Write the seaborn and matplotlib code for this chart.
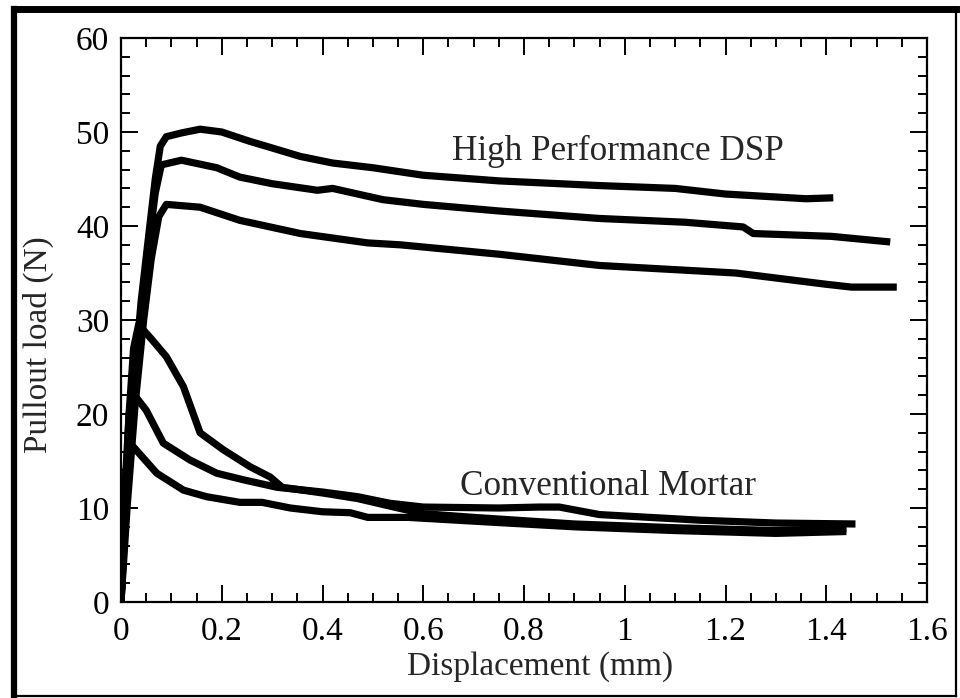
import numpy as np
import pandas as pd
import seaborn as sns
import matplotlib
matplotlib.use("Agg")
import matplotlib.pyplot as plt
from matplotlib.lines import Line2D
from matplotlib.ticker import MultipleLocator, FuncFormatter

# ---- data ----
hp1_x = [0, 0.01, 0.025, 0.04, 0.055, 0.068, 0.078, 0.09, 0.12, 0.157, 0.2, 0.256, 0.3, 0.356, 0.42, 0.5, 0.6, 0.75, 0.95, 1.1, 1.2, 1.36, 1.414]
hp1_y = [0, 11, 23, 32, 39, 45, 48.5, 49.5, 49.9, 50.3, 50.0, 49.0, 48.3, 47.4, 46.7, 46.2, 45.4, 44.8, 44.3, 44.0, 43.4, 42.9, 43.0]

hp2_x = [0, 0.01, 0.025, 0.04, 0.055, 0.068, 0.08, 0.12, 0.19, 0.236, 0.3, 0.39, 0.42, 0.52, 0.6, 0.75, 0.95, 1.12, 1.235, 1.255, 1.41, 1.527]
hp2_y = [0, 10, 22, 31, 38, 43.5, 46.5, 47.0, 46.2, 45.2, 44.5, 43.8, 44.0, 42.8, 42.3, 41.6, 40.8, 40.4, 39.9, 39.2, 38.9, 38.3]

hp3_x = [0, 0.012, 0.028, 0.045, 0.06, 0.075, 0.09, 0.157, 0.236, 0.356, 0.49, 0.554, 0.75, 0.95, 1.22, 1.4, 1.45, 1.54]
hp3_y = [0, 10, 21, 30, 36.5, 41, 42.3, 42.0, 40.6, 39.2, 38.2, 38.0, 37.0, 35.8, 35.0, 33.8, 33.5, 33.5]

cm1_x = [0, 0.008, 0.016, 0.025, 0.035, 0.06, 0.09, 0.124, 0.157, 0.203, 0.256, 0.296, 0.32, 0.40, 0.47, 0.55, 0.6, 0.7, 0.9, 1.1, 1.3, 1.44]
cm1_y = [0, 10, 20, 27, 29.5, 28, 26.1, 22.9, 18.0, 16.2, 14.4, 13.3, 12.2, 11.6, 11.0, 10.0, 9.4, 9.0, 8.3, 7.9, 7.6, 7.8]

cm2_x = [0, 0.008, 0.016, 0.024, 0.05, 0.084, 0.137, 0.19, 0.243, 0.31, 0.40, 0.47, 0.534, 0.6, 0.75, 0.83, 0.87, 0.95, 1.15, 1.3, 1.458]
cm2_y = [0, 12, 20, 22.2, 20.4, 16.9, 15.1, 13.7, 13.0, 12.2, 11.7, 11.2, 10.5, 10.1, 10.0, 10.1, 10.1, 9.3, 8.7, 8.4, 8.3]

cm3_x = [0, 0.01, 0.018, 0.071, 0.124, 0.17, 0.236, 0.28, 0.336, 0.40, 0.455, 0.49, 0.57, 0.733, 0.9, 1.1, 1.3, 1.44]
cm3_y = [0, 14, 16.9, 13.7, 11.9, 11.2, 10.6, 10.6, 10.0, 9.6, 9.5, 9.0, 9.0, 8.5, 8.0, 7.6, 7.3, 7.5]

x_ticks = [0, 0.2, 0.4, 0.6, 0.8, 1.0, 1.2, 1.4, 1.6]
y_ticks = [0, 10, 20, 30, 40, 50, 60]
x_label = "Displacement (mm)"
y_label = "Pullout load (N)"
label_hp = "High Performance DSP"
label_cm = "Conventional Mortar"

curves = {"hp1": (hp1_x, hp1_y), "hp2": (hp2_x, hp2_y), "hp3": (hp3_x, hp3_y),
          "cm1": (cm1_x, cm1_y), "cm2": (cm2_x, cm2_y), "cm3": (cm3_x, cm3_y)}
df = pd.concat([pd.DataFrame({"curve": k, "x": v[0], "y": v[1]}) for k, v in curves.items()],
               ignore_index=True)

sns.set_style("ticks")
plt.rcParams["font.family"] = ["Liberation Serif", "DejaVu Serif"]

fig = plt.figure(figsize=(9.6, 6.98), dpi=100)
ax = fig.add_axes([121/960, 1 - 602/698, (927-121)/960, (602-38)/698])

sns.lineplot(data=df, x="x", y="y", units="curve", estimator=None, sort=False,
             color="black", lw=5.2, ax=ax, solid_capstyle="butt", solid_joinstyle="round")

ax.set_xlim(0, 1.6)
ax.set_ylim(0, 60)
ax.set_xticks(x_ticks)
ax.set_yticks(y_ticks)
ax.xaxis.set_minor_locator(MultipleLocator(0.05))
ax.yaxis.set_minor_locator(MultipleLocator(2))
ax.xaxis.set_major_formatter(FuncFormatter(lambda v, p: f"{v:g}"))
ax.yaxis.set_major_formatter(FuncFormatter(lambda v, p: f"{v:g}"))

ax.tick_params(which="both", direction="in", top=True, right=True, width=1.4, colors="black")
ax.tick_params(which="major", length=12)
ax.tick_params(which="minor", length=6.5)
ax.tick_params(axis="x", which="major", labelsize=24, pad=10.5)
ax.tick_params(axis="y", which="major", labelsize=24, pad=8.5)
for s in ax.spines.values():
    s.set_linewidth(1.6)
    s.set_color("black")

ax.set_xlabel(x_label, fontsize=24)
ax.set_ylabel(y_label, fontsize=24)
ax.xaxis.set_label_coords(0.52, -0.087)
ax.yaxis.set_label_coords(-0.083, 0.456)

ax.text(0.657, 47.0, label_hp, fontsize=25.3, ha="left", va="baseline")
ax.text(0.673, 11.4, label_cm, fontsize=25.3, ha="left", va="baseline")

# figure frame
W, H = 960, 698
def fl(x0, y0, x1, y1, lw):
    fig.add_artist(Line2D([x0/W, x1/W], [1 - y0/H, 1 - y1/H], color="black", lw=lw,
                          transform=fig.transFigure, solid_capstyle="projecting"))
fl(14, 8.5, 956, 8.5, 5.0)
fl(14, 8.5, 14, 696, 4.5)
fl(956, 8.5, 956, 696, 1.6)
fl(14, 696, 956, 696, 1.6)

fig.savefig("out.png", dpi=100)
